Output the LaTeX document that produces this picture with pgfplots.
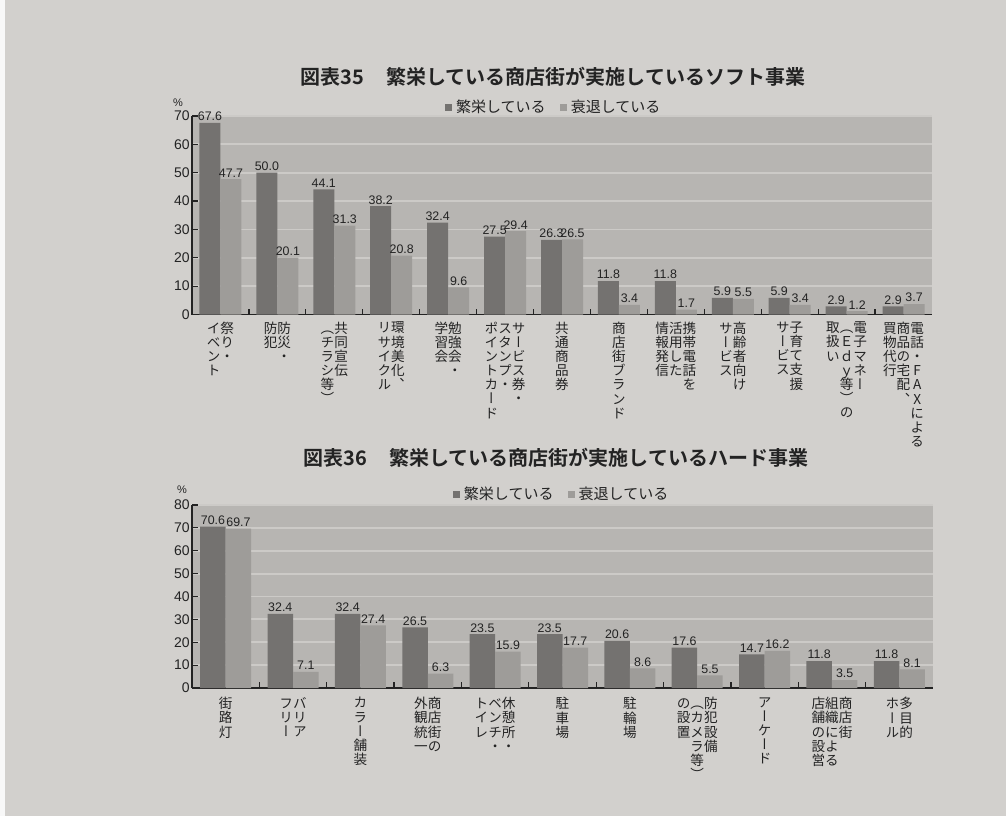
\documentclass[border=0pt]{standalone}
\usepackage{pgfplots}
\pgfplotsset{compat=1.18}
\usepackage{fontspec}
\setmainfont{Liberation Sans}
\newfontfamily\jp{Noto Sans CJK JP}
\newfontfamily\jpb{Noto Sans CJK JP Bold}
\newfontfamily\jpv[RawFeature=+vert]{Noto Sans CJK JP}

\definecolor{page}{RGB}{210,208,205}
\definecolor{plotbg}{RGB}{183,181,178}
\definecolor{gridc}{RGB}{204,202,199}
\definecolor{barA}{RGB}{116,114,112}
\definecolor{barB}{RGB}{158,156,153}
\definecolor{ink}{RGB}{35,35,35}

% one vertical column of characters (tategaki)
\ExplSyntaxOn
\NewDocumentCommand\vc{m}
 {
  \vtop
   {
    \baselineskip=1.04em
    \lineskiplimit=-100pt
    \lineskip=0pt
    \tl_map_inline:nn {#1}
     { \hbox_to_wd:nn {1em} { \hss ##1 \hss } }
   }
 }
\ExplSyntaxOff

\pgfplotsset{
  shopbars/.style={
    scale only axis,
    ymin=0,
    xmin=-0.5,
    ybar=0pt,
    axis background/.style={fill=plotbg},
    ymajorgrids,
    grid style={gridc, line width=0.9pt},
    axis lines*=left,
    axis line style={-, ink, line width=0.7pt},
    tick style={ink, line width=0.6pt},
    tick align=inside,
    major tick length=3pt,
    minor tick length=3pt,
    xtick=data,
    x tick style={draw=none},
    minor x tick num=1,
    minor x tick style={draw=ink},
    /pgf/number format/assume math mode=true,
    yticklabel style={font=\fontsize{7}{7}\selectfont, text=ink, inner sep=1pt},
    xticklabel style={font=\jpv\fontsize{6.8}{7}\selectfont, text=ink, anchor=north, inner sep=0pt},
    nodes near coords={\pgfmathprintnumber[fixed, fixed zerofill, precision=1]{\pgfplotspointmeta}},
    every node near coord/.append style={font=\fontsize{6.2}{6}\selectfont, text=ink, inner sep=0.8pt},
    legend columns=2,
    legend style={draw=none, fill=none, font=\jp\fontsize{7.5}{8}\selectfont, text=ink,
                  anchor=center,
                  /tikz/every even column/.append style={column sep=5pt}},
    legend image code/.code={\fill[##1] (0pt,-1.6pt) rectangle (3.6pt,2pt);},
  },
}

\begin{document}
\begin{tikzpicture}
\useasboundingbox (0,0) rectangle (503pt,408pt);
\fill[page] (0,0) rectangle (503pt,408pt);
\fill[white!85!page] (0,0) rectangle (2.5pt,408pt);

% ---------------- 図表35 ソフト事業 ----------------
\node[text=ink] at (276.5pt,369.5pt) {\jpb\fontsize{10}{10}\selectfont 図表35\hspace{1.1em}繁栄している商店街が実施しているソフト事業};
\node[text=ink, font=\fontsize{5.5}{6}\selectfont] at (89pt,356.5pt) {\%};

\begin{axis}[shopbars,
  at={(96pt,250.75pt)}, anchor=south west,
  width=370pt, height=99.25pt,
  xmax=12.5, ymax=70,
  ytick={0,10,...,70},
  bar width=10.5pt,
  xticklabel style={yshift=-3.5pt},
  legend style={at={(0.49,1)}, yshift=4pt},
  xticklabels={
    {\vc{イベント}\vc{祭り・}},
    {\vc{防犯}\vc{防災・}},
    {\vc{（チラシ等）}\vc{共同宣伝}},
    {\vc{リサイクル}\vc{環境美化、}},
    {\vc{学習会}\vc{勉強会・}},
    {\vc{ポイントカード}\vc{スタンプ・}\vc{サービス券・}},
    {\vc{共通商品券}},
    {\vc{商店街ブランド}},
    {\vc{情報発信}\vc{活用した}\vc{携帯電話を}},
    {\vc{サービス}\vc{高齢者向け}},
    {\vc{サービス}\vc{子育て支援}},
    {\vc{取扱い}\vc{（Ｅｄｙ等）の}\vc{電子マネー}},
    {\vc{買物代行}\vc{商品の宅配、}\vc{電話・FAXによる}},
  },
]
\addplot[fill=barA, draw=none] coordinates {
  (0,67.6) (1,50.0) (2,44.1) (3,38.2) (4,32.4) (5,27.5) (6,26.3)
  (7,11.8) (8,11.8) (9,5.9) (10,5.9) (11,2.9) (12,2.9)};
\addplot[fill=barB, draw=none] coordinates {
  (0,47.7) (1,20.1) (2,31.3) (3,20.8) (4,9.6) (5,29.4) (6,26.5)
  (7,3.4) (8,1.7) (9,5.5) (10,3.4) (11,1.2) (12,3.7)};
\legend{繁栄している, 衰退している}
\end{axis}

% ---------------- 図表36 ハード事業 ----------------
\node[text=ink] at (278pt,179pt) {\jpb\fontsize{10}{10}\selectfont 図表36\hspace{1.1em}繁栄している商店街が実施しているハード事業};
\node[text=ink, font=\fontsize{5.5}{6}\selectfont] at (91pt,163pt) {\%};

\begin{axis}[shopbars,
  at={(96pt,64pt)}, anchor=south west,
  width=370.5pt, height=91.5pt,
  xmax=10.5, ymax=80,
  ytick={0,10,...,80},
  bar width=12.75pt,
  xticklabel style={yshift=-4.5pt},
  legend style={at={(0.5,1)}, yshift=5pt},
  xticklabels={
    {\vc{街路灯}},
    {\vc{フリー}\vc{バリア}},
    {\vc{カラー舗装}},
    {\vc{外観統一}\vc{商店街の}},
    {\vc{トイレ}\vc{ベンチ・}\vc{休憩所・}},
    {\vc{駐車場}},
    {\vc{駐輪場}},
    {\vc{の設置}\vc{（カメラ等）}\vc{防犯設備}},
    {\vc{アーケード}},
    {\vc{店舗の設営}\vc{組織による}\vc{商店街}},
    {\vc{ホール}\vc{多目的}},
  },
]
\addplot[fill=barA, draw=none] coordinates {
  (0,70.6) (1,32.4) (2,32.4) (3,26.5) (4,23.5) (5,23.5)
  (6,20.6) (7,17.6) (8,14.7) (9,11.8) (10,11.8)};
\addplot[fill=barB, draw=none] coordinates {
  (0,69.7) (1,7.1) (2,27.4) (3,6.3) (4,15.9) (5,17.7)
  (6,8.6) (7,5.5) (8,16.2) (9,3.5) (10,8.1)};
\legend{繁栄している, 衰退している}
\end{axis}
\end{tikzpicture}
\end{document}
